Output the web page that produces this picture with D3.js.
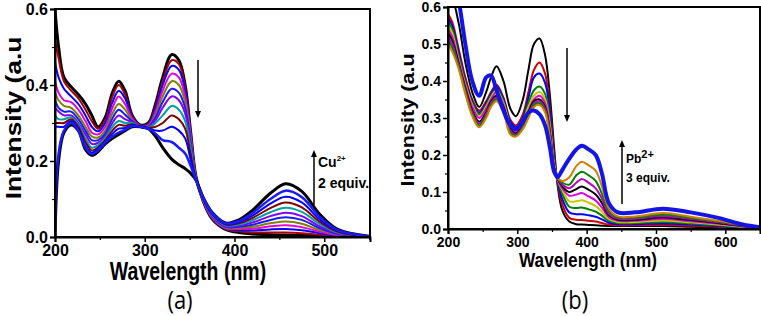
<!DOCTYPE html>
<html><head><meta charset="utf-8">
<script src="https://cdn.jsdelivr.net/npm/d3@7"></script>
<style>body{margin:0;background:#fff}svg{display:block}</style>
</head><body>
<svg id="c" width="761" height="316"></svg>
<script>
// ---------- Panel (a): Cu2+ titration ----------
const wlA = [200,204,210,218,226,234,241,248,256,264,271,278,286,295,304,312,320,330,338,345,351,357,365,375,390,405,420,440,457,475,495,515,550];
// each row = intensities of the 12 spectra (start -> end) at one wavelength
const absA = [
 [0.60,0.52,0.46,0.41,0.38,0.36,0.34,0.32,0.30,0.29,0.0,0.0],
 [0.50,0.47,0.42,0.38,0.36,0.34,0.33,0.31,0.30,0.29,0.22,0.20],
 [0.42,0.41,0.39,0.36,0.345,0.33,0.32,0.31,0.30,0.29,0.28,0.275],
 [0.395,0.385,0.37,0.355,0.34,0.33,0.32,0.315,0.31,0.305,0.30,0.295],
 [0.375,0.365,0.35,0.335,0.32,0.31,0.30,0.295,0.29,0.285,0.28,0.28],
 [0.35,0.335,0.32,0.305,0.29,0.28,0.27,0.26,0.25,0.24,0.235,0.23],
 [0.32,0.305,0.29,0.275,0.265,0.255,0.245,0.235,0.228,0.222,0.218,0.215],
 [0.29,0.285,0.278,0.27,0.262,0.255,0.248,0.242,0.236,0.232,0.228,0.225],
 [0.315,0.308,0.30,0.29,0.28,0.272,0.265,0.26,0.255,0.25,0.248,0.245],
 [0.38,0.37,0.355,0.34,0.325,0.312,0.30,0.29,0.28,0.272,0.265,0.26],
 [0.41,0.40,0.385,0.37,0.35,0.335,0.32,0.305,0.295,0.285,0.275,0.27],
 [0.385,0.375,0.365,0.35,0.335,0.322,0.31,0.30,0.293,0.287,0.282,0.28],
 [0.32,0.318,0.315,0.312,0.308,0.305,0.302,0.30,0.297,0.295,0.292,0.29],
 [0.295,0.294,0.293,0.292,0.291,0.29,0.29,0.29,0.29,0.29,0.29,0.29],
 [0.30,0.298,0.296,0.294,0.292,0.29,0.289,0.288,0.287,0.286,0.285,0.285],
 [0.35,0.345,0.338,0.33,0.322,0.315,0.307,0.30,0.29,0.28,0.272,0.265],
 [0.42,0.41,0.40,0.385,0.37,0.355,0.34,0.32,0.30,0.28,0.255,0.235],
 [0.48,0.465,0.45,0.43,0.41,0.39,0.37,0.345,0.32,0.29,0.25,0.205],
 [0.465,0.455,0.44,0.42,0.40,0.38,0.36,0.335,0.31,0.28,0.235,0.19],
 [0.40,0.395,0.385,0.37,0.355,0.34,0.325,0.305,0.285,0.26,0.22,0.18],
 [0.28,0.278,0.275,0.27,0.262,0.255,0.245,0.235,0.22,0.205,0.188,0.168],
 [0.16,0.158,0.157,0.156,0.155,0.154,0.153,0.152,0.152,0.151,0.15,0.15],
 [0.095,0.095,0.096,0.097,0.098,0.099,0.10,0.101,0.102,0.103,0.104,0.105],
 [0.048,0.049,0.05,0.051,0.053,0.055,0.057,0.059,0.061,0.062,0.064,0.065],
 [0.02,0.021,0.022,0.023,0.025,0.027,0.029,0.031,0.033,0.034,0.036,0.037],
 [0.012,0.015,0.018,0.021,0.024,0.027,0.03,0.033,0.036,0.039,0.042,0.045],
 [0.008,0.012,0.017,0.022,0.027,0.032,0.038,0.044,0.05,0.056,0.063,0.07],
 [0.006,0.012,0.02,0.028,0.036,0.045,0.055,0.065,0.076,0.088,0.10,0.115],
 [0.005,0.012,0.021,0.031,0.041,0.052,0.064,0.077,0.091,0.106,0.122,0.14],
 [0.004,0.01,0.018,0.026,0.035,0.045,0.055,0.066,0.078,0.091,0.105,0.12],
 [0.003,0.006,0.01,0.014,0.018,0.023,0.028,0.034,0.04,0.046,0.053,0.06],
 [0.002,0.003,0.004,0.005,0.007,0.008,0.01,0.012,0.014,0.016,0.018,0.02],
 [0.001,0.001,0.001,0.001,0.001,0.001,0.001,0.001,0.001,0.002,0.002,0.002]
];
const colorsA = ["#000000","#b00000","#0000ff","#e000e0","#808000","#1a1aff","#8000ff","#00a0a0","#800000","#0000ff","#1a1aff","#000000"];
const widthsA = [3,2,2,2,2,2,2,2,2,2,2.5,3];
const xTicksA = [200,300,400,500];
const xMinorA = [250,350,450,550];
const yTicksA = [0.0,0.2,0.4,0.6];
const yMinorA = [0.1,0.3,0.5];

// ---------- Panel (b): Pb2+ titration ----------
const wlB = [200,206,215,225,235,245,255,262,270,280,290,298,308,316,324,332,340,347,353,358,365,375,385,393,403,413,422,432,445,470,510,550,590,625,650];
const absB = [
 [0.60,0.58,0.57,0.56,0.55,0.54,0.53,0.52,0.51,0.50,0.62],
 [0.62,0.56,0.55,0.54,0.53,0.52,0.51,0.50,0.49,0.48,0.68],
 [0.56,0.49,0.48,0.47,0.46,0.455,0.45,0.445,0.44,0.435,0.62],
 [0.45,0.41,0.40,0.395,0.39,0.385,0.38,0.375,0.37,0.365,0.50],
 [0.37,0.35,0.345,0.34,0.335,0.33,0.32,0.315,0.31,0.305,0.40],
 [0.33,0.32,0.315,0.31,0.305,0.30,0.29,0.285,0.28,0.275,0.36],
 [0.37,0.345,0.34,0.335,0.33,0.325,0.315,0.31,0.305,0.30,0.41],
 [0.41,0.37,0.365,0.36,0.355,0.35,0.345,0.34,0.335,0.33,0.415],
 [0.44,0.39,0.385,0.38,0.375,0.37,0.36,0.355,0.35,0.345,0.375],
 [0.40,0.355,0.35,0.345,0.34,0.335,0.33,0.325,0.32,0.315,0.32],
 [0.325,0.295,0.29,0.285,0.28,0.275,0.27,0.265,0.26,0.255,0.28],
 [0.305,0.28,0.275,0.27,0.265,0.262,0.258,0.255,0.252,0.25,0.27],
 [0.35,0.31,0.30,0.295,0.29,0.285,0.28,0.277,0.274,0.27,0.29],
 [0.43,0.37,0.355,0.34,0.33,0.32,0.315,0.31,0.305,0.30,0.315],
 [0.50,0.43,0.41,0.375,0.36,0.35,0.345,0.34,0.335,0.33,0.32],
 [0.515,0.45,0.42,0.385,0.37,0.36,0.35,0.345,0.34,0.335,0.31],
 [0.47,0.42,0.395,0.365,0.35,0.34,0.33,0.325,0.32,0.315,0.28],
 [0.36,0.33,0.315,0.29,0.28,0.27,0.26,0.255,0.25,0.245,0.22],
 [0.22,0.20,0.19,0.18,0.175,0.17,0.165,0.16,0.158,0.155,0.155],
 [0.12,0.125,0.13,0.132,0.134,0.135,0.136,0.137,0.138,0.138,0.14],
 [0.05,0.065,0.08,0.095,0.105,0.11,0.115,0.12,0.125,0.13,0.16],
 [0.02,0.03,0.045,0.06,0.075,0.09,0.10,0.11,0.12,0.14,0.19],
 [0.013,0.025,0.04,0.057,0.075,0.093,0.108,0.125,0.145,0.17,0.215],
 [0.012,0.024,0.04,0.058,0.078,0.097,0.115,0.135,0.155,0.182,0.225],
 [0.011,0.022,0.037,0.053,0.071,0.088,0.106,0.125,0.145,0.172,0.215],
 [0.01,0.02,0.033,0.047,0.062,0.077,0.093,0.11,0.13,0.158,0.20],
 [0.009,0.016,0.026,0.036,0.047,0.058,0.07,0.082,0.095,0.115,0.15],
 [0.008,0.012,0.017,0.022,0.027,0.032,0.037,0.042,0.048,0.055,0.07],
 [0.008,0.01,0.013,0.016,0.019,0.022,0.025,0.028,0.031,0.034,0.045],
 [0.008,0.01,0.013,0.016,0.019,0.022,0.025,0.028,0.031,0.034,0.045],
 [0.008,0.011,0.015,0.019,0.023,0.027,0.031,0.035,0.039,0.043,0.055],
 [0.006,0.009,0.012,0.015,0.018,0.021,0.024,0.027,0.03,0.033,0.045],
 [0.004,0.006,0.008,0.01,0.012,0.014,0.016,0.018,0.02,0.022,0.03],
 [0.002,0.003,0.004,0.005,0.006,0.007,0.008,0.009,0.01,0.011,0.012],
 [0.0,0.001,0.001,0.002,0.002,0.003,0.003,0.004,0.004,0.005,0.005]
];
const colorsB = ["#000000","#d00000","#0000ff","#008000","#c8c800","#e000e0","#000000","#c000c0","#008000","#d08000","#1414e6"];
const widthsB = [2,2,2,2,2,2,2,2,2,2,4];
const xTicksB = [200,300,400,500,600];
const xMinorB = [250,350,450,550,650];
const yTicksB = [0.0,0.1,0.2,0.3,0.4,0.5,0.6];
const yMinorB = [0.05,0.15,0.25,0.35,0.45,0.55];

const svg = d3.select("#c");
const FONT = "'Liberation Sans', Arial, sans-serif";

function panel(o){
  const x = d3.scaleLinear().domain(o.xDom).range([o.x0, o.x1]);
  const y = d3.scaleLinear().domain([0,0.6]).range([o.y0, o.y1]);
  const g = svg.append("g");
  const cid = "clip" + o.id;
  svg.append("clipPath").attr("id", cid).append("rect")
     .attr("x", o.x0).attr("y", o.y1).attr("width", o.x1-o.x0).attr("height", o.y0-o.y1);
  const line = d3.line().x(d=>x(d[0])).y(d=>y(d[1])).curve(d3.curveCatmullRom.alpha(0.5));
  const lines = g.append("g").attr("clip-path", `url(#${cid})`);
  o.order.forEach(j=>{
    const pts = o.wl.map((w,i)=>[w, o.rows[i][j]]);
    lines.append("path").attr("d", line(pts)).attr("fill","none")
      .attr("stroke", o.colors[j]).attr("stroke-width", o.widths[j]).attr("stroke-linejoin","round");
  });
  // frame
  g.append("rect").attr("x",o.x0).attr("y",o.y1).attr("width",o.x1-o.x0).attr("height",o.y0-o.y1)
   .attr("fill","none").attr("stroke","#000").attr("stroke-width",2);
  // axes
  const ax = g.append("g").attr("transform",`translate(0,${o.y0})`)
    .call(d3.axisBottom(x).tickValues(o.xTicks).tickSize(5).tickPadding(3).tickFormat(d3.format("d")));
  ax.select(".domain").attr("stroke-width",2);
  ax.selectAll(".tick line").attr("stroke-width",1.5);
  ax.selectAll("text").attr("font-family",FONT).attr("font-weight","bold").attr("font-size",o.tickFs).attr("fill","#000");
  g.append("g").attr("transform",`translate(0,${o.y0})`)
    .call(d3.axisBottom(x).tickValues(o.xMinor).tickSize(3).tickFormat(""))
    .call(s=>s.select(".domain").remove()).selectAll("line").attr("stroke-width",1.2);
  const ay = g.append("g").attr("transform",`translate(${o.x0},0)`)
    .call(d3.axisLeft(y).tickValues(o.yTicks).tickSize(5).tickPadding(2).tickFormat(d3.format(".1f")));
  ay.select(".domain").attr("stroke-width",2);
  ay.selectAll(".tick line").attr("stroke-width",1.5);
  ay.selectAll("text").attr("font-family",FONT).attr("font-weight","bold").attr("font-size",o.tickFs).attr("fill","#000");
  g.append("g").attr("transform",`translate(${o.x0},0)`)
    .call(d3.axisLeft(y).tickValues(o.yMinor).tickSize(3).tickFormat(""))
    .call(s=>s.select(".domain").remove()).selectAll("line").attr("stroke-width",1.2);
  // titles
  g.append("text").attr("transform",`translate(${o.xtX},${o.xtY}) scale(${o.xtS},1)`)
   .attr("text-anchor","middle").attr("font-family",FONT).attr("font-weight","bold")
   .attr("font-size",o.xtFs).text("Wavelength (nm)");
  g.append("text").attr("transform",`translate(${o.ytX},${o.ytY}) rotate(-90) scale(${o.ytS},1)`)
   .attr("text-anchor","middle").attr("font-family",FONT).attr("font-weight","bold")
   .attr("font-size",o.ytFs).text("Intensity (a.u");
  g.append("text").attr("transform",`translate(${o.lbX},${o.lbY}) scale(1,1.12)`)
   .attr("text-anchor","middle").attr("font-family","'Open Sans', sans-serif")
   .attr("font-size",22).text(o.label);
  // arrows
  const arrow = (xx, ya, yb) => {
    g.append("line").attr("x1",xx).attr("x2",xx).attr("y1",ya).attr("y2",yb + (yb>ya?-6:6))
      .attr("stroke","#000").attr("stroke-width",1.5);
    const d = yb>ya ? -1 : 1;
    g.append("path").attr("d",`M${xx-3},${yb+7*d}L${xx+3},${yb+7*d}L${xx},${yb}Z`).attr("fill","#000");
  };
  arrow(o.downX, o.downY0, o.downY1);
  arrow(o.upX, o.upY0, o.upY1);
  const t1 = g.append("text").attr("x",o.upX+4).attr("y",o.annY1)
    .attr("font-family",FONT).attr("font-weight","bold").attr("font-size",o.annFs);
  t1.append("tspan").text(o.ion);
  t1.append("tspan").attr("dy",-o.supDy).attr("font-size",o.supFs).text("2+");
  g.append("text").attr("x",o.upX+4).attr("y",o.annY2)
    .attr("font-family",FONT).attr("font-weight","bold").attr("font-size",o.annFs).text(o.equiv);
}

panel({id:"a", wl:wlA, rows:absA, colors:colorsA, widths:widthsA,
  order:[0,1,2,3,4,5,6,7,8,9,11,10],
  xDom:[200,551], x0:55, x1:370, y0:237, y1:9,
  xTicks:xTicksA, xMinor:xMinorA, yTicks:yTicksA, yMinor:yMinorA, tickFs:16,
  xtX:188, xtY:280, xtS:0.78, xtFs:25,
  ytX:21, ytY:118, ytS:1.2, ytFs:22,
  lbX:180, lbY:309, label:"(a)",
  downX:198, downY0:60, downY1:118, upX:314, upY0:205, upY1:150,
  ion:"Cu", equiv:"2 equiv.", annFs:14, supFs:8, supDy:6, annY1:167, annY2:188});

panel({id:"b", wl:wlB, rows:absB, colors:colorsB, widths:widthsB,
  order:[0,1,2,3,4,5,6,7,8,9,10],
  xDom:[200,650], x0:448, x1:760, y0:229, y1:7,
  xTicks:xTicksB, xMinor:xMinorB, yTicks:yTicksB, yMinor:yMinorB, tickFs:14,
  xtX:588, xtY:267, xtS:0.82, xtFs:21,
  ytX:414, ytY:120, ytS:1.2, ytFs:18,
  lbX:575, lbY:309, label:"(b)",
  downX:567, downY0:48, downY1:122, upX:622, upY0:204, upY1:140,
  ion:"Pb", equiv:"3 equiv.", annFs:12, supFs:11, supDy:5, annY1:163, annY2:182});
</script>
</body></html>
